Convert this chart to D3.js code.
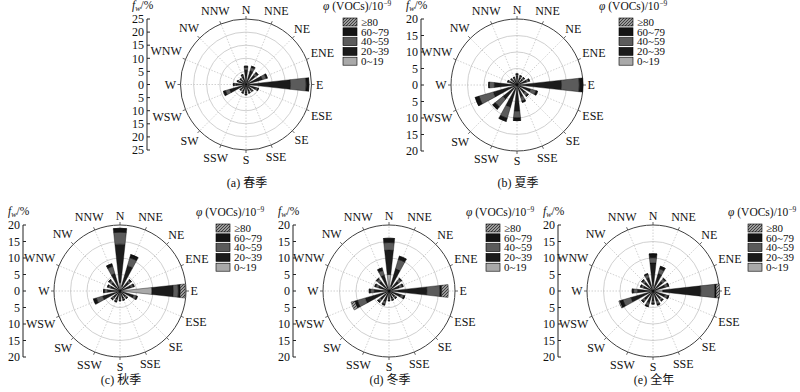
<!DOCTYPE html>
<html><head><meta charset="utf-8">
<script src="https://cdn.jsdelivr.net/npm/d3@7"></script>
<style>
body{margin:0;background:#fff;}
</style>
</head><body>
<svg id="chart" width="800" height="392" font-family="'Liberation Serif', 'DejaVu Serif', serif"></svg>
<script>
// ---------- data ----------
const directions = ["N","NNE","NE","ENE","E","ESE","SE","SSE","S","SSW","SW","WSW","W","WNW","NW","NNW"];
const binLabels = ["0~19","20~39","40~59","60~79","≥80"];
const legendOrder = ["≥80","60~79","40~59","20~39","0~19"];
const ticks25 = [-25,-20,-15,-10,-5,0,5,10,15,20,25];
const ticks20 = [-20,-15,-10,-5,0,5,10,15,20];

// each row: direction; columns: frequency (%) in bins 0~19, 20~39, 40~59, 60~79, >=80
const spring = [
  [1.0,4.5,1.0,0.5,0], [1.0,4.5,1.3,0.5,0], [1.0,3.5,1.0,0.5,0], [1.0,5.5,1.5,0.5,0],
  [1.0,16.0,6.0,1.0,0], [1.0,3.0,0.8,0.2,0], [0.8,2.0,0.5,0.2,0], [0.8,2.0,0.5,0.2,0],
  [0.8,2.5,0.5,0.2,0], [0.8,2.0,0.5,0.2,0], [0.8,1.7,0.3,0.2,0], [1.0,5.5,1.7,0.8,0],
  [0.8,3.0,0.7,0.3,0], [0.8,2.0,0.5,0.2,0], [0.8,1.7,0.3,0.2,0], [0.8,2.5,0.5,0.2,0]
];
const summer = [
  [0.5,2.2,0.5,0.2,0], [0.5,1.8,0.5,0.2,0], [0.5,1.8,0.5,0.2,0], [0.5,2.5,0.7,0.3,0],
  [1.0,12.5,5.4,1.0,0], [0.8,3.5,1.7,0.5,0], [0.6,2.6,1.0,0.3,0], [0.6,3.2,1.3,0.4,0],
  [1.0,7.0,2.0,0.8,0], [1.0,6.0,3.5,1.0,0], [1.0,4.5,3.0,1.0,0], [1.0,6.5,4.5,1.2,0],
  [0.5,6.4,1.5,0.2,0], [0.4,1.8,0.6,0.2,0], [0.4,1.5,0.4,0.2,0], [0.4,1.5,0.4,0.2,0]
];
const autumn = [
  [2.5,11.7,3.6,1.2,0], [1.5,6.5,2.5,1.0,0], [0.5,3.0,0.7,0.3,0], [0.5,3.0,0.7,0.3,0],
  [9.7,6.5,1.5,0.6,1.5], [0.8,3.5,0.9,0.3,0], [0.5,1.8,0.5,0.2,0], [0.5,1.8,0.5,0.2,0],
  [0.5,1.8,0.5,0.2,0], [0.5,2.2,0.6,0.2,0], [0.5,2.2,0.6,0.2,0], [1.0,4.5,2.0,0.9,0],
  [0.6,3.2,0.9,0.3,0], [0.5,2.5,0.7,0.3,0], [0.5,2.8,0.9,0.3,0], [1.0,4.5,2.3,0.8,0]
];
const winter = [
  [5.0,7.4,2.3,1.3,0], [1.5,5.5,3.0,1.0,0], [0.6,3.2,0.9,0.3,0], [0.5,2.8,0.9,0.3,0],
  [1.0,10.5,4.0,0.5,2.0], [0.6,3.2,0.9,0.3,0], [0.5,1.8,0.5,0.2,0], [0.5,1.8,0.5,0.2,0],
  [0.5,1.8,0.5,0.2,0], [0.6,2.8,0.8,0.3,0], [0.6,2.8,0.8,0.3,0], [1.0,6.5,2.5,0.8,1.2],
  [0.7,3.8,1.1,0.4,0], [0.5,2.8,0.9,0.3,0], [0.6,3.2,0.9,0.3,0], [1.0,4.0,1.5,0.8,0]
];
const annual = [
  [1.5,7.0,1.6,1.2,0], [1.0,4.5,1.5,0.8,0], [0.6,3.2,0.9,0.3,0], [0.6,3.2,0.9,0.3,0],
  [3.0,11.5,4.3,0.4,1.0], [0.6,3.2,0.9,0.3,0], [0.5,2.5,0.7,0.3,0], [0.5,2.8,0.9,0.3,0],
  [0.5,2.5,0.7,0.3,0], [0.6,3.2,0.9,0.3,0], [0.6,2.8,0.8,0.3,0], [1.0,6.0,2.5,1.0,0.3],
  [0.7,4.0,1.2,0.4,0], [0.5,2.5,0.7,0.3,0], [0.6,2.8,0.8,0.3,0], [0.8,3.4,1.0,0.3,0]
];
const captions = ["(a) 春季","(b) 夏季","(c) 秋季","(d) 冬季","(e) 全年"];

// ---------- layout ----------
const panels = [
  {data:spring, ticks:ticks25, max:25, cx:246, cy:84.5, R:65.5, axisX:147, legX:343, legY:6,  cap:captions[0], capY:187},
  {data:summer, ticks:ticks20, max:20, cx:517, cy:85,   R:66,   axisX:421, legX:619, legY:6,  cap:captions[1], capY:187},
  {data:autumn, ticks:ticks20, max:20, cx:120, cy:291,  R:66,   axisX:23,  legX:216, legY:212, cap:captions[2], capY:384},
  {data:winter, ticks:ticks20, max:20, cx:389, cy:291,  R:66,   axisX:293, legX:486, legY:212, cap:captions[3], capY:384},
  {data:annual, ticks:ticks20, max:20, cx:653, cy:291,  R:66,   axisX:558, legX:748, legY:212, cap:captions[4], capY:384}
];

const fills = ["#a9a9a9","#1b1b1b","#5b5b5b","#141414","url(#hatch)"];
const fillByLabel = {"0~19":fills[0],"20~39":fills[1],"40~59":fills[2],"60~79":fills[3],"≥80":fills[4]};
const FONT = "'Liberation Serif', 'DejaVu Serif', serif";

const svg = d3.select("#chart");
const defs = svg.append("defs");
const pat = defs.append("pattern").attr("id","hatch").attr("patternUnits","userSpaceOnUse")
  .attr("width",3).attr("height",3);
pat.append("rect").attr("width",3).attr("height",3).attr("fill","#9a9a9a");
pat.append("path").attr("d","M-1,1 l2,-2 M0,3 l3,-3 M2,4 l2,-2").attr("stroke","#2a2a2a").attr("stroke-width",0.8);

const angle = d3.scalePoint().domain(directions).range([0, 2*Math.PI*15/16]);
const halfW = 6.2 * Math.PI/180;
const stack = d3.stack().keys([0,1,2,3,4]);

panels.forEach(p => {
  const g = svg.append("g").attr("font-family", FONT);
  const r = d3.scaleLinear().domain([0,p.max]).range([0,p.R]);
  const c = g.append("g").attr("transform",`translate(${p.cx},${p.cy})`);

  const rings = d3.range(5, p.max, 5);
  c.selectAll("circle.ring").data(rings).join("circle")
    .attr("r", d=>r(d)).attr("fill","none").attr("stroke","#c4c4c4").attr("stroke-width",0.8);
  c.selectAll("line.spoke").data(directions).join("line")
    .attr("x1",0).attr("y1",0)
    .attr("x2",d=>r(p.max)*Math.sin(angle(d))).attr("y2",d=>-r(p.max)*Math.cos(angle(d)))
    .attr("stroke","#bdbdbd").attr("stroke-width",0.7).attr("stroke-dasharray","1.5,1.5");
  c.append("circle").attr("r",r(p.max)).attr("fill","none").attr("stroke","#404040").attr("stroke-width",1);
  c.selectAll("line.otick").data(directions).join("line")
    .attr("x1",d=>r(p.max)*Math.sin(angle(d))).attr("y1",d=>-r(p.max)*Math.cos(angle(d)))
    .attr("x2",d=>(r(p.max)+3)*Math.sin(angle(d))).attr("y2",d=>-(r(p.max)+3)*Math.cos(angle(d)))
    .attr("stroke","#404040").attr("stroke-width",0.8);

  const series = stack(p.data);
  series.forEach((s,k) => {
    c.append("g").selectAll("path").data(s).join("path")
      .attr("d",(d,i)=>d3.arc()({innerRadius:r(d[0]),outerRadius:r(d[1]),
        startAngle:angle(directions[i])-halfW,endAngle:angle(directions[i])+halfW}))
      .attr("fill",fills[k]).attr("stroke","#000").attr("stroke-width",0.4);
  });

  directions.forEach(dn => {
    const a = angle(dn);
    const t = c.append("text").text(dn).attr("font-size",12).attr("fill","#111")
      .attr("text-anchor","middle").attr("dominant-baseline","central");
    const w = t.node().getComputedTextLength();
    const h = 10;
    const rr = r(p.max) + 4.5 + (w/2)*Math.abs(Math.sin(a)) + (h/2)*Math.abs(Math.cos(a));
    t.attr("x", rr*Math.sin(a)).attr("y", -rr*Math.cos(a));
  });

  const y = d3.scaleLinear().domain([p.max,-p.max]).range([p.cy-p.R, p.cy+p.R]);
  const ax = g.append("g").attr("transform",`translate(${p.axisX},0)`);
  ax.append("line").attr("y1",y(p.max)).attr("y2",y(-p.max)).attr("stroke","#222").attr("stroke-width",1);
  ax.selectAll("line.tk").data(p.ticks).join("line")
    .attr("x1",0).attr("x2",3).attr("y1",d=>y(d)).attr("y2",d=>y(d)).attr("stroke","#222");
  ax.selectAll("text").data(p.ticks).join("text")
    .attr("x",-3).attr("y",d=>y(d)).attr("dy","0.35em").attr("text-anchor","end")
    .attr("font-size",12).attr("fill","#111").text(d=>Math.abs(d));
  const fl = g.append("text").attr("x",p.axisX-15).attr("y",p.cy-p.R-10.5).attr("font-size",11.5).attr("fill","#111");
  fl.append("tspan").attr("font-style","italic").text("f");
  fl.append("tspan").attr("font-style","italic").attr("font-size",8).attr("dy",2).text("w");
  fl.append("tspan").attr("dy",-2).text("/%");

  const lg = g.append("g");
  const lt = lg.append("text").attr("x",p.legX-20).attr("y",p.legY+4).attr("font-size",11.5).attr("fill","#111");
  lt.append("tspan").attr("font-style","italic").text("φ");
  lt.append("tspan").text(" (VOCs)/10");
  lt.append("tspan").attr("font-size",7.5).attr("dy",-4.5).text("−9");
  const step = 9.8;
  lg.selectAll("rect").data(legendOrder).join("rect")
    .attr("x",p.legX).attr("y",(d,i)=>p.legY + 12 + i*step).attr("width",14).attr("height",8)
    .attr("fill",d=>fillByLabel[d]).attr("stroke","#000").attr("stroke-width",0.6);
  const ltx = lg.append("text").attr("x",p.legX+18).attr("y",p.legY + 16 + 3.8)
    .attr("font-size",11).attr("fill","#111");
  ltx.selectAll("tspan").data(legendOrder).join("tspan")
    .attr("x",p.legX+18).attr("dy",(d,i)=> i===0 ? 0 : step).text(d=>d);

  g.append("text").attr("x",p.cx+1).attr("y",p.capY).attr("text-anchor","middle")
    .attr("font-size",12).attr("fill","#111")
    .attr("font-family","'Liberation Serif', 'Noto Sans CJK SC', serif").text(p.cap);
});
</script>
</body></html>
